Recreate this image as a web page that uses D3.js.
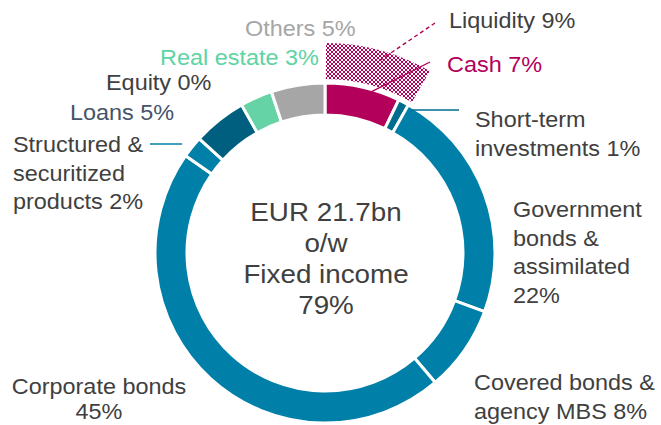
<!doctype html>
<html lang="en">

<head>
    <meta charset="utf-8">
    <title>Investment portfolio</title>
    <style>
        body {
            margin: 0px;
            background: #fff;
        }

        text {
            font-family: "Liberation Sans", Arial, sans-serif;
            fill: #404040;
        }

        .slice {
            stroke: #fff;
            stroke-width: 3;
        }

        pattern rect {
            shape-rendering: crispEdges;
        }
    </style>
</head>

<body>
</body>
<script src="https://d3js.org/d3.v7.min.js"></script>
<script>
    // data
    const categories = ['Cash', 'Short-term investments', 'Government bonds & assimilated',
        'Covered bonds & agency MBS', 'Corporate bonds', 'Structured & securitized products',
        'Loans', 'Equity', 'Real estate', 'Others'];
    const shares = [7, 1, 22, 8, 45, 2, 5, 0, 3, 5];
    const liquidityParts = ['Cash', 'Short-term investments'];
    const liquidityShare = 9;
    const centerLines = ['EUR 21.7bn', 'o/w', 'Fixed income', '79%'];

    // how each label wraps, {v} = share
    const labelLines = [
        ['Cash {v}%'],
        ['Short-term', 'investments {v}%'],
        ['Government', 'bonds &', 'assimilated', '{v}%'],
        ['Covered bonds &', 'agency MBS {v}%'],
        ['Corporate bonds', '{v}%'],
        ['Structured &', 'securitized', 'products {v}%'],
        ['Loans {v}%'],
        ['Equity {v}%'],
        ['Real estate {v}%'],
        ['Others {v}%']
    ];

    const colors = ['#b2005b', '#006d8e', '#0080a8', '#0080a8', '#0080a8', '#0080a8',
        '#005f7f', '#005f7f', '#66d3a7', '#a6a6a6'];
    const labelColors = ['#b2005b', '#404040', '#404040', '#404040', '#404040', '#404040',
        '#44546a', '#404040', '#5ed3a3', '#a6a6a6'];

    // label layout: x, first baseline, anchor, line gap
    const labelPos = [
        [447, 72, 'start', 28.7],
        [475, 127, 'start', 28.7],
        [513, 217, 'start', 28.7],
        [474, 390, 'start', 28.7],
        [99, 394, 'middle', 25],
        [13, 152, 'start', 28.7],
        [70, 120, 'start', 28.7],
        [106, 90, 'start', 28.7],
        [160, 65, 'start', 28.7],
        [245, 36, 'start', 28.7]
    ];

    const W = 661, H = 425;
    const cx = 325, cy = 253;
    const rOuter = 170, rInner = 138;
    const stretch = 1.09;

    const svg = d3.select('body').append('svg')
        .attr('width', W)
        .attr('height', H);

    const defs = svg.append('defs');
    const pat = defs.append('pattern')
        .attr('id', 'checker')
        .attr('patternUnits', 'userSpaceOnUse')
        .attr('width', 4)
        .attr('height', 4);
    pat.append('rect').attr('width', 4).attr('height', 4).attr('fill', '#fff');
    pat.append('rect').attr('width', 2).attr('height', 2).attr('fill', '#b2005b');
    pat.append('rect').attr('x', 2).attr('y', 2).attr('width', 2).attr('height', 2).attr('fill', '#b2005b');

    const data = categories.map((c, i) => ({ name: c, value: shares[i], i: i }));

    const pie = d3.pie()
        .sort(null)
        .value(d => d.value)
        .startAngle(0)
        .endAngle(2 * Math.PI);

    const arcs = pie(data);

    const arc = d3.arc()
        .innerRadius(rInner)
        .outerRadius(rOuter);

    const g = svg.append('g').attr('transform', `translate(${cx},${cy})`);

    g.selectAll('path.slice')
        .data(arcs.filter(d => d.data.value > 0))
        .enter()
        .append('path')
        .attr('class', 'slice')
        .attr('d', arc)
        .attr('fill', d => colors[d.data.i]);

    // liquidity band outside cash + short-term
    const liqArcs = arcs.filter(d => liquidityParts.includes(d.data.name));
    const liqStart = d3.min(liqArcs, d => d.startAngle);
    const liqEnd = d3.max(liqArcs, d => d.endAngle);
    g.append('path')
        .attr('d', d3.arc()
            .innerRadius(rOuter + 4)
            .outerRadius(rOuter + 40)
            .startAngle(liqStart + 0.005)
            .endAngle(liqEnd + 0.01)())
        .attr('fill', 'url(#checker)');

    function polar(angle, r) {
        return [cx + r * Math.sin(angle), cy - r * Math.cos(angle)];
    }

    // leader lines
    const cashArc = arcs[0];
    const stArc = arcs[1];
    const structArc = arcs[5];

    let p = polar((liqStart + liqEnd) / 2 + 0.02, rOuter + 30);
    svg.append('line')
        .attr('x1', 435).attr('y1', 23)
        .attr('x2', p[0]).attr('y2', p[1])
        .attr('stroke', '#b2005b')
        .attr('stroke-width', 1.4)
        .attr('stroke-dasharray', '4,3');

    p = polar(cashArc.startAngle + (cashArc.endAngle - cashArc.startAngle) * 0.6, rOuter - 4);
    svg.append('line')
        .attr('x1', 430).attr('y1', 62)
        .attr('x2', p[0]).attr('y2', p[1])
        .attr('stroke', '#b2005b')
        .attr('stroke-width', 1.4);

    p = polar(stArc.endAngle + 0.03, rOuter - 3);
    svg.append('line')
        .attr('x1', 459).attr('y1', 110)
        .attr('x2', p[0]).attr('y2', p[1])
        .attr('stroke', '#006d8e')
        .attr('stroke-width', 1.3);

    p = polar((structArc.startAngle + structArc.endAngle) / 2, rOuter);
    svg.append('line')
        .attr('x1', 150).attr('y1', 144)
        .attr('x2', p[0] - 10).attr('y2', 144)
        .attr('stroke', '#0080a8')
        .attr('stroke-width', 1.3);

    // labels
    function addText(str, x, y, size, anchor, color) {
        svg.append('text')
            .attr('transform', `translate(${x},${y}) scale(${stretch},1)`)
            .attr('text-anchor', anchor)
            .style('font-size', size + 'px')
            .style('fill', color)
            .text(str);
    }

    data.forEach((d, i) => {
        const pos = labelPos[i];
        labelLines[i].forEach((ln, k) => {
            addText(ln.replace('{v}', d.value), pos[0], pos[1] + k * pos[3], 21.5, pos[2], labelColors[i]);
        });
    });

    addText(`Liquidity ${liquidityShare}%`, 449, 28, 21.5, 'start', '#404040');

    centerLines.forEach((ln, k) => {
        addText(ln, 326, 221 + k * 31, 25.5, 'middle', '#404040');
    });
</script>

</html>
